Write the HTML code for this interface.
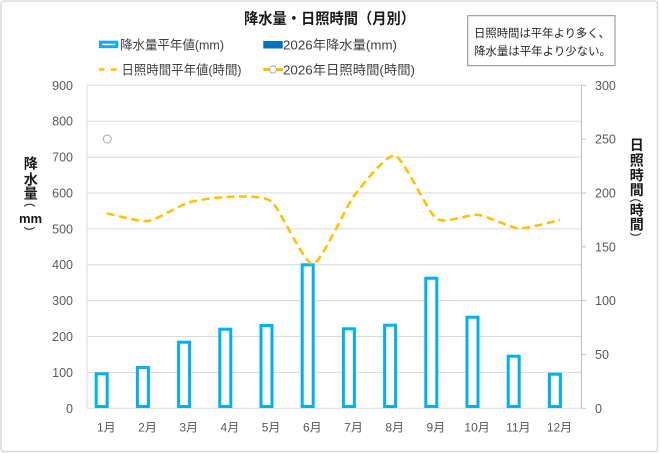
<!DOCTYPE html>
<html>
<head>
<meta charset="utf-8">
<style>
html,body{margin:0;padding:0;background:#fff;}
svg{display:block;}
text{font-family:"Liberation Sans","Noto Sans CJK JP",sans-serif;}
</style>
</head>
<body>
<svg width="660" height="453" viewBox="0 0 660 453" xmlns="http://www.w3.org/2000/svg">
  <rect x="0" y="0" width="660" height="453" fill="#fff"/>
  <rect x="1" y="1" width="656.5" height="450.5" rx="3" fill="#fff" stroke="#d9d9d9" stroke-width="1.5"/>

  <!-- Title -->
  <text x="244" y="23.5" font-size="15" font-weight="bold" fill="#1a1a1a" textLength="171" lengthAdjust="spacingAndGlyphs">降水量・日照時間（月別）</text>

  <!-- Legend -->
  <rect x="100.5" y="42.2" width="16.3" height="4.5" fill="#fff" stroke="#00B0F0" stroke-width="3"/>
  <text x="120" y="49.5" font-size="13" fill="#404040" textLength="104" lengthAdjust="spacingAndGlyphs">降水量平年値(mm)</text>
  <rect x="263.3" y="41" width="19.4" height="7.5" fill="#0070C0"/>
  <text x="283" y="49.5" font-size="13" fill="#404040" textLength="114" lengthAdjust="spacingAndGlyphs">2026年降水量(mm)</text>

  <line x1="99" y1="69.5" x2="104.5" y2="69.5" stroke="#FFC000" stroke-width="2.5"/>
  <line x1="111" y1="69.5" x2="116.7" y2="69.5" stroke="#FFC000" stroke-width="2.5"/>
  <text x="121.5" y="74.5" font-size="13" fill="#404040" textLength="120" lengthAdjust="spacingAndGlyphs">日照時間平年値(時間)</text>
  <line x1="263.3" y1="69.5" x2="283" y2="69.5" stroke="#FFC000" stroke-width="3"/>
  <circle cx="273" cy="69.5" r="3.6" fill="#fff" stroke="#a6a6a6" stroke-width="1"/>
  <text x="283" y="74.5" font-size="13" fill="#404040" textLength="132" lengthAdjust="spacingAndGlyphs">2026年日照時間(時間)</text>

  <!-- Text box -->
  <rect x="467.7" y="15.7" width="147.3" height="50" fill="#fff" stroke="#8c8c8c" stroke-width="1"/>
  <text x="474" y="37" font-size="11.5" fill="#262626" textLength="136" lengthAdjust="spacingAndGlyphs">日照時間は平年より多く、</text>
  <text x="474" y="55" font-size="11.5" fill="#262626" textLength="137" lengthAdjust="spacingAndGlyphs">降水量は平年より少ない。</text>

  <!-- Gridlines -->
  <g stroke="#d9d9d9" stroke-width="1">
    <line x1="87" y1="85.3" x2="581" y2="85.3"/>
    <line x1="87" y1="121.2" x2="581" y2="121.2"/>
    <line x1="87" y1="157.1" x2="581" y2="157.1"/>
    <line x1="87" y1="193.0" x2="581" y2="193.0"/>
    <line x1="87" y1="228.9" x2="581" y2="228.9"/>
    <line x1="87" y1="264.7" x2="581" y2="264.7"/>
    <line x1="87" y1="300.6" x2="581" y2="300.6"/>
    <line x1="87" y1="336.5" x2="581" y2="336.5"/>
    <line x1="87" y1="372.4" x2="581" y2="372.4"/>
    <line x1="87" y1="408.3" x2="581" y2="408.3"/>
    <line x1="87" y1="85.3" x2="87" y2="408.3"/>
  </g>
  <g stroke="#bfbfbf" stroke-width="1">
    <line x1="581.5" y1="85.3" x2="581.5" y2="408.3"/>
    <line x1="581.5" y1="85.3" x2="586" y2="85.3"/>
    <line x1="581.5" y1="139.1" x2="586" y2="139.1"/>
    <line x1="581.5" y1="193.0" x2="586" y2="193.0"/>
    <line x1="581.5" y1="246.8" x2="586" y2="246.8"/>
    <line x1="581.5" y1="300.6" x2="586" y2="300.6"/>
    <line x1="581.5" y1="354.5" x2="586" y2="354.5"/>
    <line x1="581.5" y1="408.3" x2="586" y2="408.3"/>
  </g>

  <!-- Left axis labels -->
  <g font-size="12.5" fill="#595959" text-anchor="end">
    <text x="73" y="89.8">900</text>
    <text x="73" y="125.7">800</text>
    <text x="73" y="161.6">700</text>
    <text x="73" y="197.5">600</text>
    <text x="73" y="233.4">500</text>
    <text x="73" y="269.2">400</text>
    <text x="73" y="305.1">300</text>
    <text x="73" y="341">200</text>
    <text x="73" y="376.9">100</text>
    <text x="73" y="412.8">0</text>
  </g>
  <!-- Right axis labels -->
  <g font-size="12.5" fill="#595959">
    <text x="595" y="89.8">300</text>
    <text x="595" y="143.6">250</text>
    <text x="595" y="197.5">200</text>
    <text x="595" y="251.3">150</text>
    <text x="595" y="305.1">100</text>
    <text x="595" y="359">50</text>
    <text x="595" y="412.8">0</text>
  </g>
  <!-- X labels -->
  <g font-size="12" fill="#595959" text-anchor="middle">
    <text x="106.3" y="431.5">1月</text>
    <text x="147.5" y="431.5">2月</text>
    <text x="188.7" y="431.5">3月</text>
    <text x="229.9" y="431.5">4月</text>
    <text x="271.1" y="431.5">5月</text>
    <text x="312.3" y="431.5">6月</text>
    <text x="353.5" y="431.5">7月</text>
    <text x="394.7" y="431.5">8月</text>
    <text x="435.9" y="431.5">9月</text>
    <text x="477.1" y="431.5">10月</text>
    <text x="518.3" y="431.5">11月</text>
    <text x="559.5" y="431.5">12月</text>
  </g>

  <!-- Left axis title -->
  <g font-size="14" font-weight="bold" fill="#1a1a1a" text-anchor="middle" dominant-baseline="central">
    <text x="30.7" y="163.3">降</text>
    <text x="30.7" y="179.3">水</text>
    <text x="30.7" y="193.3">量</text>
    <text x="30.5" y="218.3" font-size="13">mm</text>
  </g>
  <g font-size="12" fill="#1a1a1a" text-anchor="middle" dominant-baseline="central">
    <text x="0" y="0" transform="translate(30.7,205) rotate(90)">(</text>
    <text x="0" y="0" transform="translate(30.7,228.5) rotate(90)">)</text>
  </g>
  <!-- Right axis title -->
  <g font-size="14" font-weight="bold" fill="#1a1a1a" text-anchor="middle" dominant-baseline="central">
    <text x="636.7" y="145">日</text>
    <text x="636.7" y="160.7">照</text>
    <text x="636.7" y="175.3">時</text>
    <text x="636.7" y="190">間</text>
    <text x="636.7" y="210.5">時</text>
    <text x="636.7" y="224.5">間</text>
  </g>
  <g font-size="12" fill="#1a1a1a" text-anchor="middle" dominant-baseline="central">
    <text x="0" y="0" transform="translate(636.7,200.5) rotate(90)">(</text>
    <text x="0" y="0" transform="translate(636.7,234.5) rotate(90)">)</text>
  </g>

  <!-- Bars -->
  <g fill="#fff" stroke="#00B0F0" stroke-width="3">
    <rect x="96.2" y="373.8" width="11" height="32.7"/>
    <rect x="137.4" y="367.5" width="11" height="39"/>
    <rect x="178.6" y="342.2" width="11" height="64.3"/>
    <rect x="219.8" y="329.2" width="11" height="77.3"/>
    <rect x="261" y="325.5" width="11" height="81"/>
    <rect x="302.2" y="264.8" width="11" height="141.7"/>
    <rect x="343.4" y="328.8" width="11" height="77.7"/>
    <rect x="384.6" y="325.2" width="11" height="81.3"/>
    <rect x="425.8" y="278.2" width="11" height="128.3"/>
    <rect x="467" y="317.2" width="11" height="89.3"/>
    <rect x="508.2" y="356.2" width="11" height="50.3"/>
    <rect x="549.4" y="374.2" width="11" height="32.3"/>
  </g>

  <!-- Sunshine average line -->
  <path d="M106.8,213.3 C110.92,214.07 139.76,222.1 148,221 C156.24,219.9 180.96,204.73 189.2,202.3 C197.44,199.87 222.16,196.76 230.4,196.7 C238.64,196.64 263.36,194.97 271.6,201.7 C279.84,208.43 304.56,264.57 312.8,264 C321.04,263.43 345.76,206.83 354,196 C362.24,185.17 386.96,153.43 395.2,155.7 C403.44,157.97 428.16,212.8 436.4,218.7 C444.64,224.6 469.36,213.74 477.6,214.7 C485.84,215.66 510.56,227.77 518.8,228.3 C527.04,228.83 555.88,220.83 560,220"
        fill="none" stroke="#FFC000" stroke-width="2.5" stroke-dasharray="8 4.5"/>

  <!-- 2026 sunshine marker -->
  <circle cx="107.3" cy="139" r="4" fill="#fff" stroke="#a6a6a6" stroke-width="1"/>
</svg>
</body>
</html>
